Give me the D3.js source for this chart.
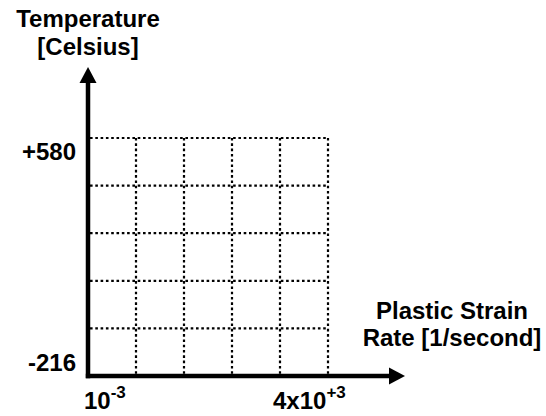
<!DOCTYPE html>
<html>
<head>
<meta charset="utf-8">
<script src="https://cdn.jsdelivr.net/npm/d3@7"></script>
<style>
  html, body { margin: 0; padding: 0; background: #fff; }
  svg { display: block; }
  text { font-family: "Liberation Sans", Arial, sans-serif; font-weight: bold; fill: #000; }
</style>
</head>
<body>
<svg id="chart" width="546" height="416"></svg>
<script>
// Axis ranges of the process map
const strainRateRange = [1e-3, 4e3];        // plastic strain rate [1/second]
const temperatureRange = [-216, 580];       // temperature [Celsius]
const xTickLabels = [
  { value: 1e-3, base: "10", exp: "-3" },
  { value: 4e3,  base: "4x10", exp: "+3" }
];
const yTickLabels = ["-216", "+580"];
const gridCols = 5;
const gridRows = 5;
const xTitle = ["Plastic Strain", "Rate [1/second]"];
const yTitle = ["Temperature", "[Celsius]"];

const svg = d3.select("#chart");

const x = d3.scaleLog().domain(strainRateRange).range([88, 328]);
const y = d3.scaleLinear().domain(temperatureRange).range([376, 138]);

// dotted grid: equal divisions of each axis
const [px0, px1] = x.range();
const xGrid = d3.range(1, gridCols + 1).map(i => x.invert(px0 + i * (px1 - px0) / gridCols));
const yGrid = d3.range(1, gridRows + 1).map(i =>
  temperatureRange[0] + i * (temperatureRange[1] - temperatureRange[0]) / gridRows);

const grid = svg.append("g")
  .attr("stroke", "#000")
  .attr("stroke-width", 2.2)
  .attr("stroke-dasharray", "2.6,2.7")
  .attr("fill", "none");

grid.selectAll("line.v").data(xGrid).join("line")
  .attr("class", "v")
  .attr("x1", d => x(d)).attr("x2", d => x(d))
  .attr("y1", y(temperatureRange[1])).attr("y2", y(temperatureRange[0]));

grid.selectAll("line.h").data(yGrid).join("line")
  .attr("class", "h")
  .attr("x1", x(strainRateRange[0]) + 2).attr("x2", x(strainRateRange[1]))
  .attr("y1", d => y(d)).attr("y2", d => y(d));

// axes with arrowheads
const x0 = x(strainRateRange[0]);
const y0 = y(temperatureRange[0]);
const xEnd = 405, yEnd = 67, head = 16, halfW = 8.5;

svg.append("line")
  .attr("x1", x0).attr("x2", x0)
  .attr("y1", y0 + 2.2).attr("y2", yEnd + head - 1)
  .attr("stroke", "#000").attr("stroke-width", 4.5);
svg.append("path")
  .attr("d", `M${x0},${yEnd} L${x0 - halfW},${yEnd + head} L${x0 + halfW},${yEnd + head} Z`)
  .attr("fill", "#000");

svg.append("line")
  .attr("x1", x0 - 2.2).attr("x2", xEnd - head + 1)
  .attr("y1", y0).attr("y2", y0)
  .attr("stroke", "#000").attr("stroke-width", 4.5);
svg.append("path")
  .attr("d", `M${xEnd},${y0} L${xEnd - head},${y0 - halfW} L${xEnd - head},${y0 + halfW} Z`)
  .attr("fill", "#000");

// y tick labels
svg.append("text")
  .attr("x", x0 - 12).attr("y", y(temperatureRange[1]) + 22)
  .attr("text-anchor", "end").attr("font-size", 24)
  .text(yTickLabels[1]);
svg.append("text")
  .attr("x", x0 - 12).attr("y", y0 - 5)
  .attr("text-anchor", "end").attr("font-size", 24)
  .text(yTickLabels[0]);

// x tick labels with superscript exponents
xTickLabels.forEach((t, i) => {
  const txt = svg.append("text")
    .attr("x", i === 0 ? x(t.value) - 4 : x(t.value) - 55)
    .attr("y", 409).attr("font-size", 24);
  txt.append("tspan").text(t.base);
  txt.append("tspan").attr("font-size", 17).attr("dy", -11).text(t.exp);
});

// axis titles
svg.append("g").selectAll("text").data(yTitle).join("text")
  .attr("x", x0).attr("y", (d, i) => 27 + i * 28)
  .attr("text-anchor", "middle").attr("font-size", 24)
  .text(d => d);

svg.append("g").selectAll("text").data(xTitle).join("text")
  .attr("x", 452).attr("y", (d, i) => 319 + i * 27)
  .attr("text-anchor", "middle").attr("font-size", 24)
  .text(d => d);
</script>
</body>
</html>
